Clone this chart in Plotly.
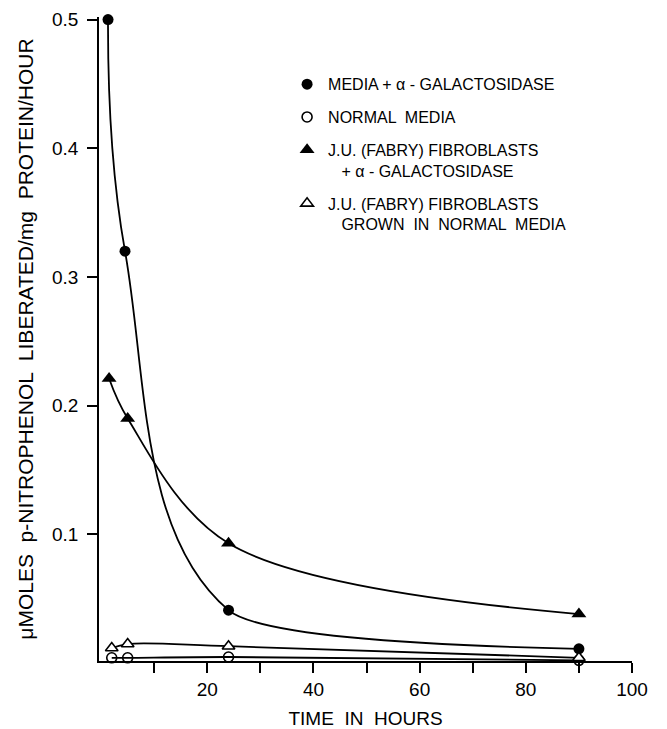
import plotly.graph_objects as go

# Time (hours) and activity values
t_media_gal = [1.3, 4.5, 24, 90]
v_media_gal = [0.5, 0.32, 0.041, 0.011]

t_normal = [2, 5, 24, 90]
v_normal = [0.004, 0.004, 0.0046, 0.002]

t_fabry_gal = [1.5, 5, 24, 90]
v_fabry_gal = [0.221, 0.19, 0.093, 0.038]

t_fabry_norm = [2, 5, 24, 90]
v_fabry_norm = [0.0116, 0.0147, 0.013, 0.004]

names = [
    "MEDIA + α - GALACTOSIDASE",
    "NORMAL  MEDIA",
    "J.U. (FABRY) FIBROBLASTS<br>   + α - GALACTOSIDASE",
    "J.U. (FABRY) FIBROBLASTS<br>   GROWN  IN  NORMAL  MEDIA",
]

x_tickvals = [10, 20, 30, 40, 50, 60, 70, 80, 90, 100]
x_ticktext = ["", "20", "", "40", "", "60", "", "80", "", "100"]
y_tickvals = [0.1, 0.2, 0.3, 0.4, 0.5]
y_ticktext = ["0.1", "0.2", "0.3", "0.4", "0.5"]

X_MIN, X_MAX, X_SPLIT = -0.4, 100, 24

series = [
    (t_media_gal, v_media_gal, names[0], dict(symbol="circle", size=11, color="black")),
    (t_normal, v_normal, names[1], dict(symbol="circle-open", size=10, color="black", line=dict(width=1.6))),
    (t_fabry_gal, v_fabry_gal, names[2], dict(symbol="triangle-up", size=13, color="black")),
    (t_fabry_norm, v_fabry_norm, names[3], dict(symbol="triangle-up", size=11, color="white", line=dict(width=1.6, color="black"))),
]

fig = go.Figure()

lw = 1.8
# the steep "media + galactosidase" curve: stronger smoothing before 24 h,
# gentler after (drawn on hidden axes that share the main x scale)
fig.add_trace(go.Scatter(
    x=t_media_gal, y=v_media_gal, mode="lines", showlegend=False, hoverinfo="skip",
    xaxis="x2", line=dict(color="black", width=lw, shape="spline", smoothing=1.15)))
fig.add_trace(go.Scatter(
    x=t_media_gal, y=v_media_gal, mode="lines", showlegend=False, hoverinfo="skip",
    xaxis="x3", line=dict(color="black", width=lw, shape="spline", smoothing=0.5)))

for i, (tx, vy, nm, mk) in enumerate(series[1:]):
    fig.add_trace(go.Scatter(
        x=tx, y=vy, mode="lines", showlegend=False, hoverinfo="skip",
        line=dict(color="black", width=lw, shape="spline", smoothing=1.0)))
for i, (tx, vy, nm, mk) in enumerate(series):
    fig.add_trace(go.Scatter(
        x=tx, y=vy, mode="markers", name=nm, legendgroup="g%d" % i,
        marker=mk, cliponaxis=False))

font = "Liberation Sans, Arial, Helvetica, sans-serif"
split_frac = (X_SPLIT - X_MIN) / (X_MAX - X_MIN)

# page body has an 8px margin, so the figure is 8px smaller than the window
fig.update_layout(
    width=659, height=721,
    margin=dict(l=91, r=35, t=9, b=68, autoexpand=False),
    paper_bgcolor="white", plot_bgcolor="rgba(0,0,0,0)",
    font=dict(family=font, color="black", size=19),
    showlegend=True,
    legend=dict(
        x=0.351, y=0.922, xanchor="left", yanchor="top",
        font=dict(size=16, family=font),
        valign="top", tracegroupgap=9, itemwidth=32,
        bgcolor="rgba(0,0,0,0)",
        itemclick=False,
    ),
    xaxis=dict(
        range=[X_MIN, X_MAX], showgrid=False, zeroline=False, automargin=False,
        showline=True, linecolor="black", linewidth=1.5,
        ticks="outside", ticklen=10, tickwidth=1.5, tickcolor="black",
        tickvals=x_tickvals, ticktext=x_ticktext,
        tickfont=dict(size=19),
        title=dict(text="TIME  IN  HOURS", font=dict(size=19), standoff=14),
    ),
    xaxis2=dict(range=[X_MIN, X_SPLIT], domain=[0, split_frac], anchor="y",
                visible=False, showgrid=False, zeroline=False),
    xaxis3=dict(range=[X_SPLIT, X_MAX], domain=[split_frac, 1], anchor="y",
                visible=False, showgrid=False, zeroline=False),
    yaxis=dict(
        range=[0.0015, 0.502], showgrid=False, zeroline=False, automargin=False,
        showline=True, linecolor="black", linewidth=1.5,
        ticks="outside", ticklen=10, tickwidth=1.5, tickcolor="black",
        tickvals=y_tickvals, ticktext=y_ticktext,
        tickfont=dict(size=19), ticklabelstandoff=5,
        title=dict(text="μMOLES  p-NITROPHENOL  LIBERATED/mg  PROTEIN/HOUR",
                   font=dict(size=21), standoff=13),
    ),
)

fig.write_html("out.html")
